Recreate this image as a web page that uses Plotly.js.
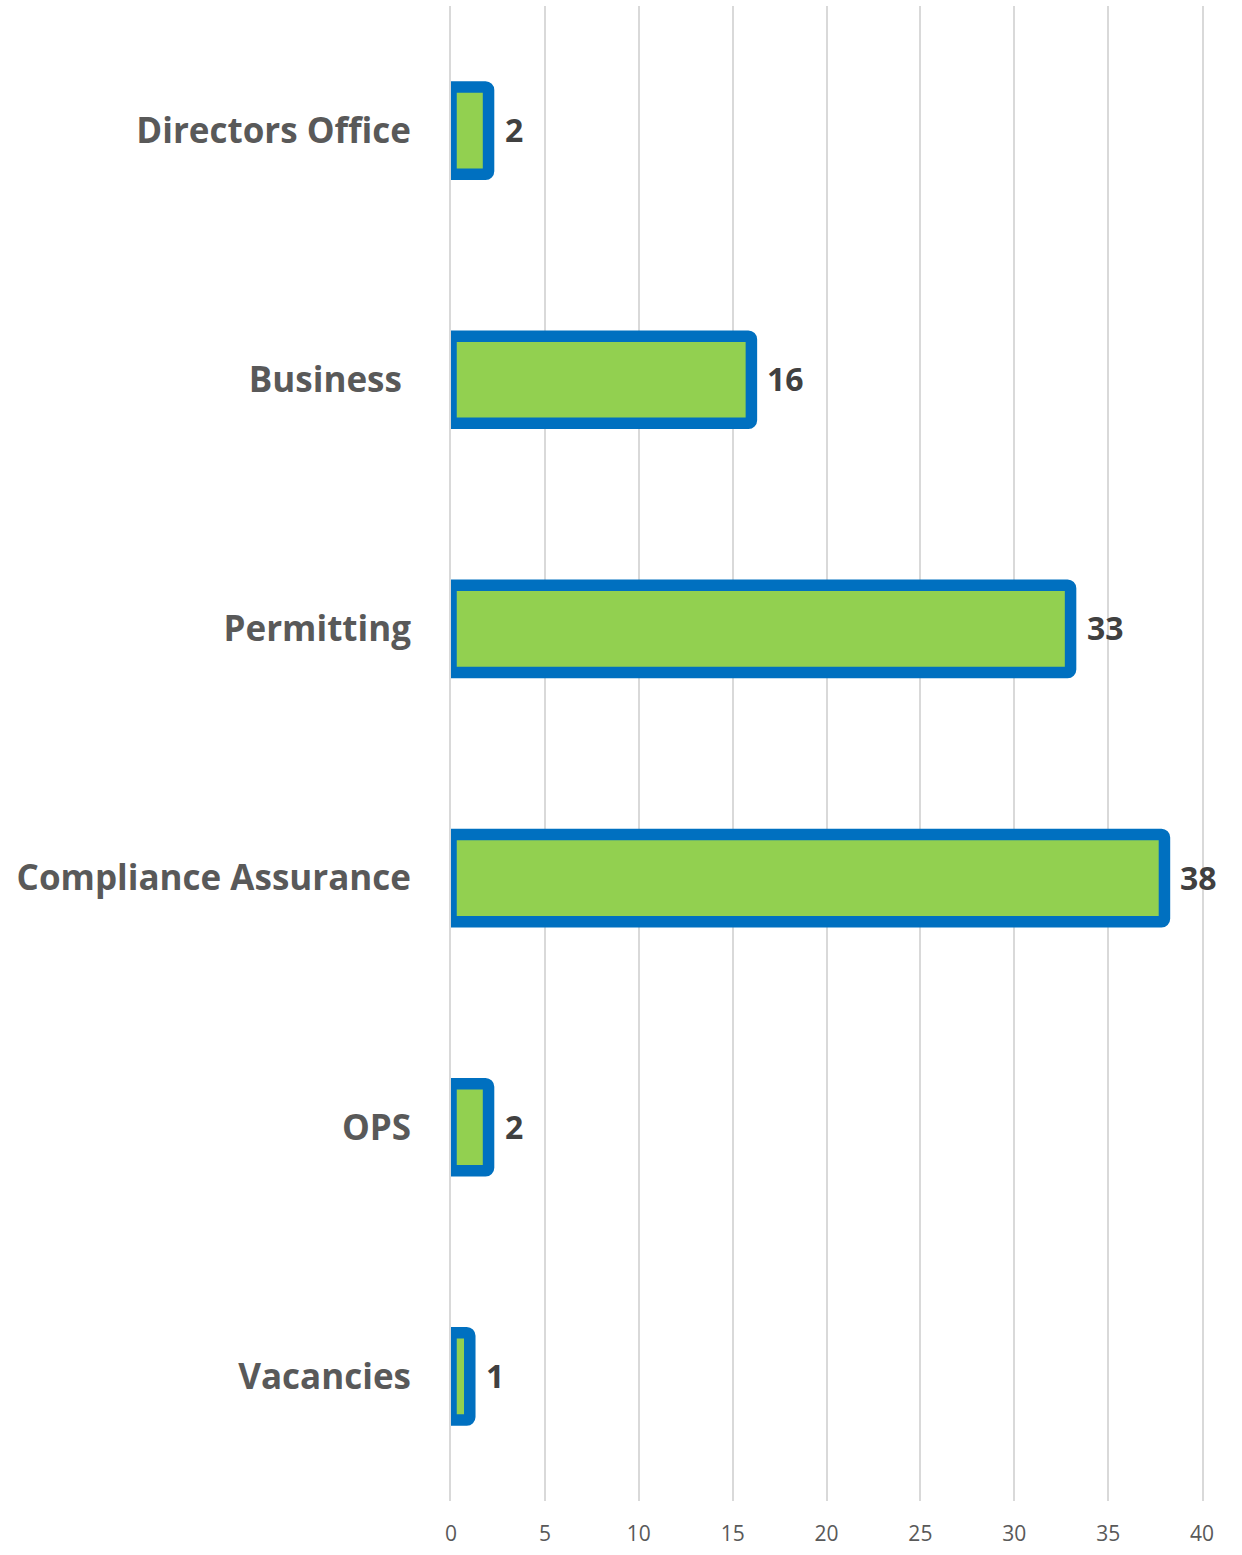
<!DOCTYPE html>
<html>
<head>
<meta charset="utf-8">
<script src="https://cdn.plot.ly/plotly-3.0.1.min.js"></script>
<style>html,body{margin:0;padding:0;background:#fff;}#chart{width:1242px;height:1555px;}</style>
</head>
<body>
<div id="chart"></div>
<script>
const categories = ["Directors Office", "Business\u00a0", "Permitting", "Compliance Assurance", "OPS", "Vacancies"];
const values = [2, 16, 33, 38, 2, 1];
const tickValues = [0, 5, 10, 15, 20, 25, 30, 35, 40];

const trace = {
  type: 'bar',
  orientation: 'h',
  y: categories,
  x: values,
  width: 0.35,
  cliponaxis: true,
  marker: {color: '#92D050', line: {color: '#0070C0', width: 11.5}, cornerradius: 3},
  hoverinfo: 'none'
};

const annotations = values.map((v, i) => ({
  x: v, y: categories[i], xref: 'x', yref: 'y',
  text: String(v), showarrow: false,
  xanchor: 'left', yanchor: 'middle', xshift: 14, yshift: 1,
  font: {family: 'Open Sans, sans-serif', size: 32, color: '#404040', weight: 'bold'}
}));

const layout = {
  width: 1242, height: 1555,
  margin: {l: 451, r: 40, t: 6, b: 54},
  paper_bgcolor: '#fff', plot_bgcolor: '#fff',
  showlegend: false,
  annotations: annotations,
  xaxis: {
    range: [0, 40], tickvals: tickValues, ticktext: tickValues.map(String),
    showgrid: true, gridcolor: '#d9d9d9', gridwidth: 2,
    zeroline: false, showline: false,
    ticks: 'outside', ticklen: 14, tickcolor: 'rgba(0,0,0,0)',
    tickfont: {family: 'Open Sans, sans-serif', size: 21, color: '#595959'},
    fixedrange: true
  },
  yaxis: {
    type: 'category', autorange: 'reversed',
    showgrid: false, zeroline: false,
    showline: true, mirror: true, linecolor: '#d9d9d9', linewidth: 2,
    layer: 'below traces',
    ticks: 'outside', ticklen: 31, tickcolor: 'rgba(0,0,0,0)',
    tickfont: {family: 'Open Sans, sans-serif', size: 35, color: '#595959', weight: 'bold'},
    fixedrange: true
  }
};

Plotly.newPlot('chart', [trace], layout, {displayModeBar: false, staticPlot: true});
</script>
</body>
</html>
